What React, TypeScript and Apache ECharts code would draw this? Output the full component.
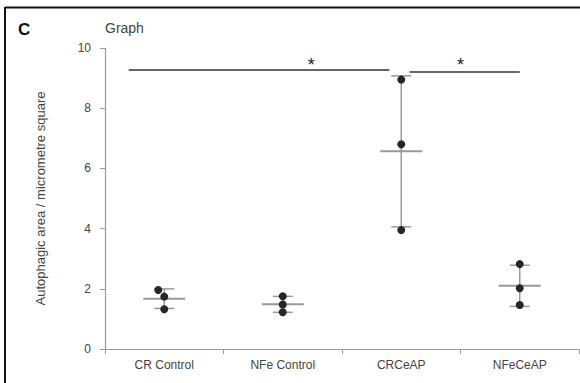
import React, { useEffect, useRef } from "react";
import * as echarts from "echarts";

const categories = ["CR Control", "NFe Control", "CRCeAP", "NFeCeAP"];
const crControl = [1.96, 1.74, 1.32];
const nfeControl = [1.75, 1.48, 1.22];
const crCeap = [8.95, 6.8, 3.95];
const nfeCeap = [2.82, 2.02, 1.46];
const groups = [crControl, nfeControl, crCeap, nfeCeap];
const yTicks = [0, 2, 4, 6, 8, 10];
// significance brackets: [fromIndex, toIndex, yValue]
const sigLines = [
  [-0.3, 1.9, 9.27],
  [2.07, 3.0, 9.2],
];
// significance stars: [xIndex, yValue]
const sigStars = [
  [1.24, 9.45],
  [2.5, 9.45],
];

const mean = (a: number[]) => a.reduce((s, v) => s + v, 0) / a.length;
const sd = (a: number[]) => {
  const m = mean(a);
  return Math.sqrt(a.reduce((s, v) => s + (v - m) * (v - m), 0) / (a.length - 1));
};

const FONT = "'Liberation Sans', Arial, sans-serif";

export default function App() {
  const ref = useRef<HTMLDivElement>(null);
  useEffect(() => {
    if (!ref.current) return;
    const chart = echarts.init(ref.current, undefined, { renderer: "svg" });
    const axisGray = "#9a9a9a";
    chart.setOption({
      animation: false,
      backgroundColor: "#fff",
      textStyle: { fontFamily: FONT },
      grid: { left: 105, right: 1, top: 48, bottom: 34 },
      xAxis: [
        {
          type: "category",
          data: categories,
          boundaryGap: true,
          axisLine: { onZero: false, lineStyle: { color: axisGray, width: 1.2 } },
          axisTick: { show: true, length: 5, lineStyle: { color: axisGray } },
          axisLabel: { color: "#444", fontSize: 12, margin: 10, fontFamily: FONT },
        },
        { type: "value", min: -0.5, max: 3.5, show: false },
      ],
      yAxis: {
        type: "value",
        min: yTicks[0],
        max: yTicks[yTicks.length - 1],
        interval: 2,
        name: "Autophagic area / micrometre square",
        nameLocation: "middle",
        nameGap: 58,
        nameTextStyle: { color: "#444", fontSize: 13, fontFamily: FONT },
        splitLine: { show: false },
        axisLine: { show: true, onZero: false, lineStyle: { color: axisGray, width: 1.2 } },
        axisTick: { show: true, length: 5, lineStyle: { color: axisGray } },
        axisLabel: { color: "#444", fontSize: 12, margin: 14, fontFamily: FONT },
      },
      graphic: [
        { type: "line", shape: { x1: 5, y1: 7.5, x2: 580, y2: 7.5 }, style: { stroke: "#111", lineWidth: 2 } },
        { type: "line", shape: { x1: 5, y1: 7, x2: 5, y2: 383 }, style: { stroke: "#111", lineWidth: 2 } },
        { type: "text", left: 18, top: 21, style: { text: "C", fontSize: 17, fontWeight: "bold", fill: "#111", fontFamily: FONT } },
        { type: "text", left: 105, top: 21, style: { text: "Graph", fontSize: 14, fill: "#444", fontFamily: FONT } },
      ],
      series: [
        {
          type: "custom",
          xAxisIndex: 0,
          data: groups.map((_, i) => [i]),
          z: 2,
          renderItem: (params: any, api: any) => {
            const i = api.value(0);
            const vals = groups[i];
            const m = mean(vals);
            const s = sd(vals);
            const top = api.coord([i, m + s]);
            const bot = api.coord([i, m - s]);
            const mid = api.coord([i, m]);
            const x = mid[0];
            const st = { stroke: "#999", lineWidth: 1.5 };
            return {
              type: "group",
              children: [
                { type: "line", shape: { x1: x, y1: top[1], x2: x, y2: bot[1] }, style: st },
                { type: "line", shape: { x1: x - 10, y1: top[1], x2: x + 10, y2: top[1] }, style: st },
                { type: "line", shape: { x1: x - 10, y1: bot[1], x2: x + 10, y2: bot[1] }, style: st },
                { type: "line", shape: { x1: x - 21, y1: mid[1], x2: x + 21, y2: mid[1] }, style: { stroke: "#999", lineWidth: 2 } },
              ],
            };
          },
        },
        {
          type: "custom",
          xAxisIndex: 0,
          data: groups.map((_, i) => [i]),
          z: 3,
          renderItem: (params: any, api: any) => {
            const i = api.value(0);
            const vals = [...groups[i]].sort((a, b) => a - b);
            const placed: number[][] = [];
            const children: any[] = [];
            vals.forEach((v) => {
              const p = api.coord([i, v]);
              let x = p[0];
              const y = p[1];
              const close = placed.some((q) => Math.abs(q[1] - y) < 7 && Math.abs(q[0] - x) < 1);
              if (close) x -= 6;
              placed.push([x, y]);
              children.push({ type: "circle", shape: { cx: x, cy: y, r: 4 }, style: { fill: "#262626" } });
            });
            return { type: "group", children };
          },
        },
        {
          type: "custom",
          xAxisIndex: 1,
          data: sigLines,
          z: 4,
          renderItem: (params: any, api: any) => {
            const a = api.coord([api.value(0), api.value(2)]);
            const b = api.coord([api.value(1), api.value(2)]);
            return {
              type: "line",
              shape: { x1: a[0], y1: a[1], x2: b[0], y2: b[1] },
              style: { stroke: "#333", lineWidth: 1.5 },
            };
          },
        },
        {
          type: "custom",
          xAxisIndex: 1,
          data: sigStars,
          z: 4,
          renderItem: (params: any, api: any) => {
            const p = api.coord([api.value(0), api.value(1)]);
            return {
              type: "text",
              x: p[0],
              y: p[1],
              style: { text: "*", fontSize: 18, fill: "#222", align: "center", verticalAlign: "middle", fontFamily: FONT },
            };
          },
        },
      ],
    });
    return () => chart.dispose();
  }, []);
  return (
    <div
      ref={ref}
      style={{ position: "absolute", left: 0, top: 0, width: 580, height: 383, background: "#fff" }}
    />
  );
}
